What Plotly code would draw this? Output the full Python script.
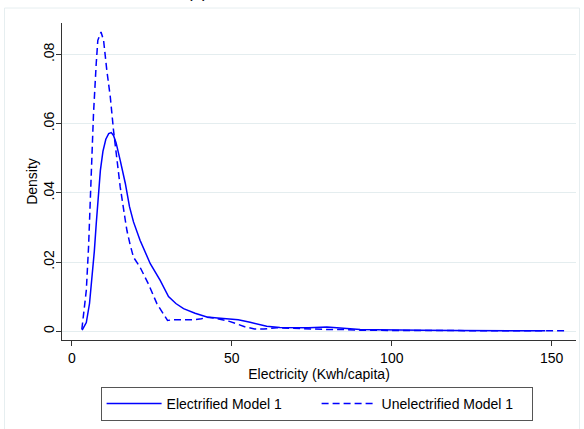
import plotly.graph_objects as go

# ---- data ----
elec_x = [3.2, 4.5, 5.5, 6.3, 7.0, 7.6, 8.2, 8.9, 9.7, 10.6, 11.5, 12.3, 13.0, 13.8,
          15.1, 16.7, 18.0, 19.25, 21.3, 24.5, 27.6, 30.2, 32.5, 34.9, 38.5, 42.2,
          45.5, 48.5, 52.0, 55.7, 58.5, 60.9, 65.0, 69.25, 74.0, 79.7, 85.0, 90.1,
          95.0, 100.0, 110.0, 120.0, 130.0, 140.0, 148.0]
elec_y = [0.0003, 0.0025, 0.0080, 0.0150, 0.0230, 0.0310, 0.0390, 0.0465, 0.0520,
          0.0555, 0.0571, 0.0574, 0.0566, 0.0545, 0.0494, 0.0427, 0.0360, 0.0316,
          0.0263, 0.0195, 0.0147, 0.0100, 0.0080, 0.0065, 0.0052, 0.0041, 0.0038,
          0.0036, 0.0033, 0.0026, 0.0019, 0.0014, 0.0011, 0.0010, 0.0010, 0.0012,
          0.0008, 0.0005, 0.0004, 0.0003, 0.0003, 0.0002, 0.0002, 0.0001, 0.0001]

unel_x = [3.1, 3.4, 4.5, 5.2, 5.5, 5.9, 6.25, 6.75, 7.6, 8.1, 9.1, 9.9, 10.9, 12.0,
          13.0, 14.1, 15.1, 16.7, 17.2, 18.2, 19.25, 21.3, 23.9, 26.6, 28.5, 29.9,
          31.5, 34.9, 38.0, 40.5, 42.2, 44.5, 46.3, 49.0, 51.6, 54.0, 57.1, 60.0,
          64.1, 69.0, 74.5, 80.0, 84.8, 90.0, 100.0, 110.0, 120.0, 130.0, 140.0,
          150.0, 155.0]
unel_y = [0.0005, 0.0031, 0.0118, 0.0243, 0.0330, 0.0436, 0.0494, 0.0629, 0.0774,
          0.0841, 0.0865, 0.0841, 0.0755, 0.0677, 0.0581, 0.0494, 0.0417, 0.0320,
          0.0291, 0.0250, 0.0214, 0.0185, 0.0137, 0.0079, 0.0050, 0.0031, 0.0033,
          0.0032, 0.0033, 0.0036, 0.0040, 0.0038, 0.0035, 0.0029, 0.0021, 0.0013,
          0.0006, 0.0006, 0.0010, 0.0008, 0.0007, 0.0005, 0.0005, 0.0003, 0.0002,
          0.0002, 0.0001, 0.0001, 0.0001, 0.0001, 0.0001]

x_tickvals = [0, 50, 100, 150]
x_ticktext = ["0", "50", "100", "150"]
y_tickvals = [0, 0.02, 0.04, 0.06, 0.08]
y_ticktext = ["0", ".02", ".04", ".06", ".08"]

series_names = ["Electrified Model 1", "Unelectrified Model 1"]
title_text = "(a)"
x_title = "Electricity (Kwh/capita)"
y_title = "Density"

FONT = "Liberation Sans, Arial, Helvetica, sans-serif"
BLUE = "#0000ff"

fig = go.Figure()
fig.add_trace(go.Scatter(x=elec_x, y=elec_y, mode="lines", name=series_names[0],
                         line=dict(color=BLUE, width=1.5)))
fig.add_trace(go.Scatter(x=unel_x, y=unel_y, mode="lines", name=series_names[1],
                         line=dict(color=BLUE, width=1.5, dash="7px,4px")))

fig.update_layout(
    width=584, height=429,
    margin=dict(l=62, r=8, t=23, b=89, autoexpand=False),
    paper_bgcolor="white", plot_bgcolor="white",
    font=dict(family=FONT, size=14, color="#000000"),
    showlegend=True,
    legend=dict(orientation="h", x=(100.6 - 62) / 514, xanchor="left",
                y=(340 - 387) / 317, yanchor="top",
                bordercolor="#555555", borderwidth=1, bgcolor="white",
                font=dict(family=FONT, size=14, color="#000000"),
                itemwidth=55, entrywidth=145, entrywidthmode="pixels",
                traceorder="normal"),
    xaxis=dict(range=[-3.1, 157.6], tickvals=x_tickvals, ticktext=x_ticktext,
               showgrid=False, zeroline=False, showline=True, linecolor="#333333",
               linewidth=1, ticks="outside", ticklen=5, tickcolor="#333333",
               tickfont=dict(family=FONT, size=14, color="#000000"),
               title=dict(text=x_title, standoff=2,
                          font=dict(family=FONT, size=14, color="#000000"))),
    yaxis=dict(range=[-0.00255, 0.0891], tickvals=y_tickvals, ticktext=y_ticktext,
               tickangle=-90, ticklabelstandoff=-4,
               showgrid=True, gridcolor="#e4edef", gridwidth=1,
               zeroline=False, showline=True, linecolor="#333333", linewidth=1,
               ticks="outside", ticklen=5, tickcolor="#333333",
               tickfont=dict(family=FONT, size=14, color="#000000"),
               title=dict(text=y_title, standoff=0,
                          font=dict(family=FONT, size=14, color="#000000"))),
)

# outer graph-region frame (light)
fig.add_shape(type="rect", xref="paper", yref="paper",
              x0=(4.5 - 62) / 514, x1=(579.5 - 62) / 514,
              y0=(340 - 440) / 317, y1=1 + (23 - 8) / 317,
              line=dict(color="#e6eef0", width=1), fillcolor="rgba(0,0,0,0)",
              layer="below")

# title, mostly cut off at top of the canvas (as in the reference)
fig.add_annotation(text=title_text, xref="paper", yref="paper",
                   x=(197 - 62) / 514, xanchor="center",
                   y=1 + (23 - 4.5) / 317, yanchor="bottom",
                   showarrow=False, font=dict(family=FONT, size=17, color="#000000"))

fig.write_html("out.html")
